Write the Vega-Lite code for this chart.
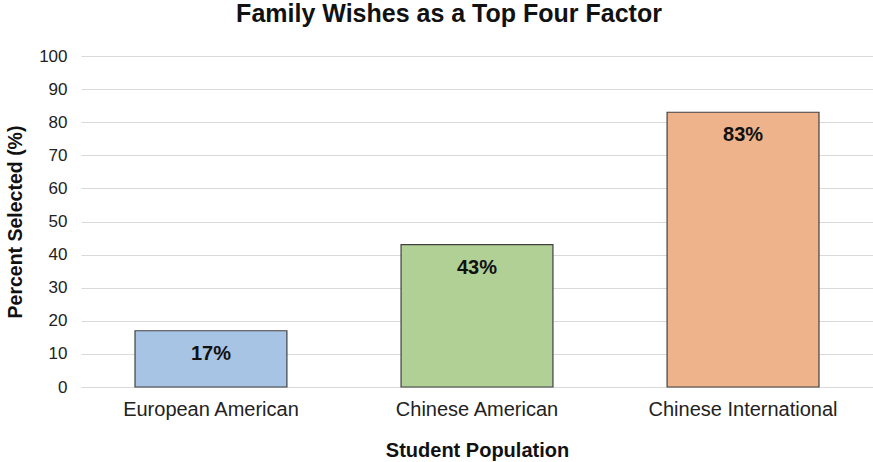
{
  "$schema": "https://vega.github.io/schema/vega-lite/v6.json",
  "width": 792,
  "height": 331,
  "autosize": {"type": "none"},
  "padding": {"left": 81, "top": 56, "right": 0, "bottom": 75},
  "background": "white",
  "config": {
    "font": "Liberation Sans",
    "view": {"stroke": null}
  },
  "title": {
    "text": "Family Wishes as a Top Four Factor",
    "fontSize": 25,
    "fontWeight": "bold",
    "color": "#111111",
    "offset": 20,
    "dx": -28,
    "anchor": "middle"
  },
  "data": {
    "values": [
      {"population": "European American", "percent": 17, "label": "17%"},
      {"population": "Chinese American", "percent": 43, "label": "43%"},
      {"population": "Chinese International", "percent": 83, "label": "83%"}
    ]
  },
  "encoding": {
    "x": {
      "field": "population",
      "type": "nominal",
      "sort": null,
      "title": "Student Population",
      "scale": {"paddingInner": 0.429, "paddingOuter": 0.203},
      "axis": {
        "labelAngle": 0,
        "labelFontSize": 20,
        "labelColor": "#222222",
        "labelPadding": 12,
        "labelLimit": 0,
        "ticks": false,
        "domain": false,
        "titleFontSize": 20,
        "titleFontWeight": "bold",
        "titleColor": "#111111",
        "titlePadding": 21
      }
    },
    "y": {
      "field": "percent",
      "type": "quantitative",
      "title": "Percent Selected (%)",
      "scale": {"domain": [0, 100]},
      "axis": {
        "values": [0, 10, 20, 30, 40, 50, 60, 70, 80, 90, 100],
        "labelFontSize": 17,
        "labelColor": "#222222",
        "labelPadding": 14,
        "ticks": false,
        "domain": false,
        "grid": true,
        "gridColor": "#d9d9d9",
        "gridWidth": 1,
        "titleFontSize": 19.5,
        "titleFontWeight": "bold",
        "titleColor": "#111111",
        "titlePadding": 13
      }
    }
  },
  "layer": [
    {
      "mark": {"type": "bar", "stroke": "#404040", "strokeWidth": 1.2},
      "encoding": {
        "color": {
          "field": "population",
          "type": "nominal",
          "sort": null,
          "scale": {
            "domain": ["European American", "Chinese American", "Chinese International"],
            "range": ["#a7c4e4", "#b1d095", "#eeb38a"]
          },
          "legend": null
        }
      }
    },
    {
      "mark": {"type": "text", "baseline": "middle", "dy": 23, "fontSize": 20, "fontWeight": "bold", "color": "#111111"},
      "encoding": {
        "text": {"field": "label", "type": "nominal"}
      }
    }
  ]
}
